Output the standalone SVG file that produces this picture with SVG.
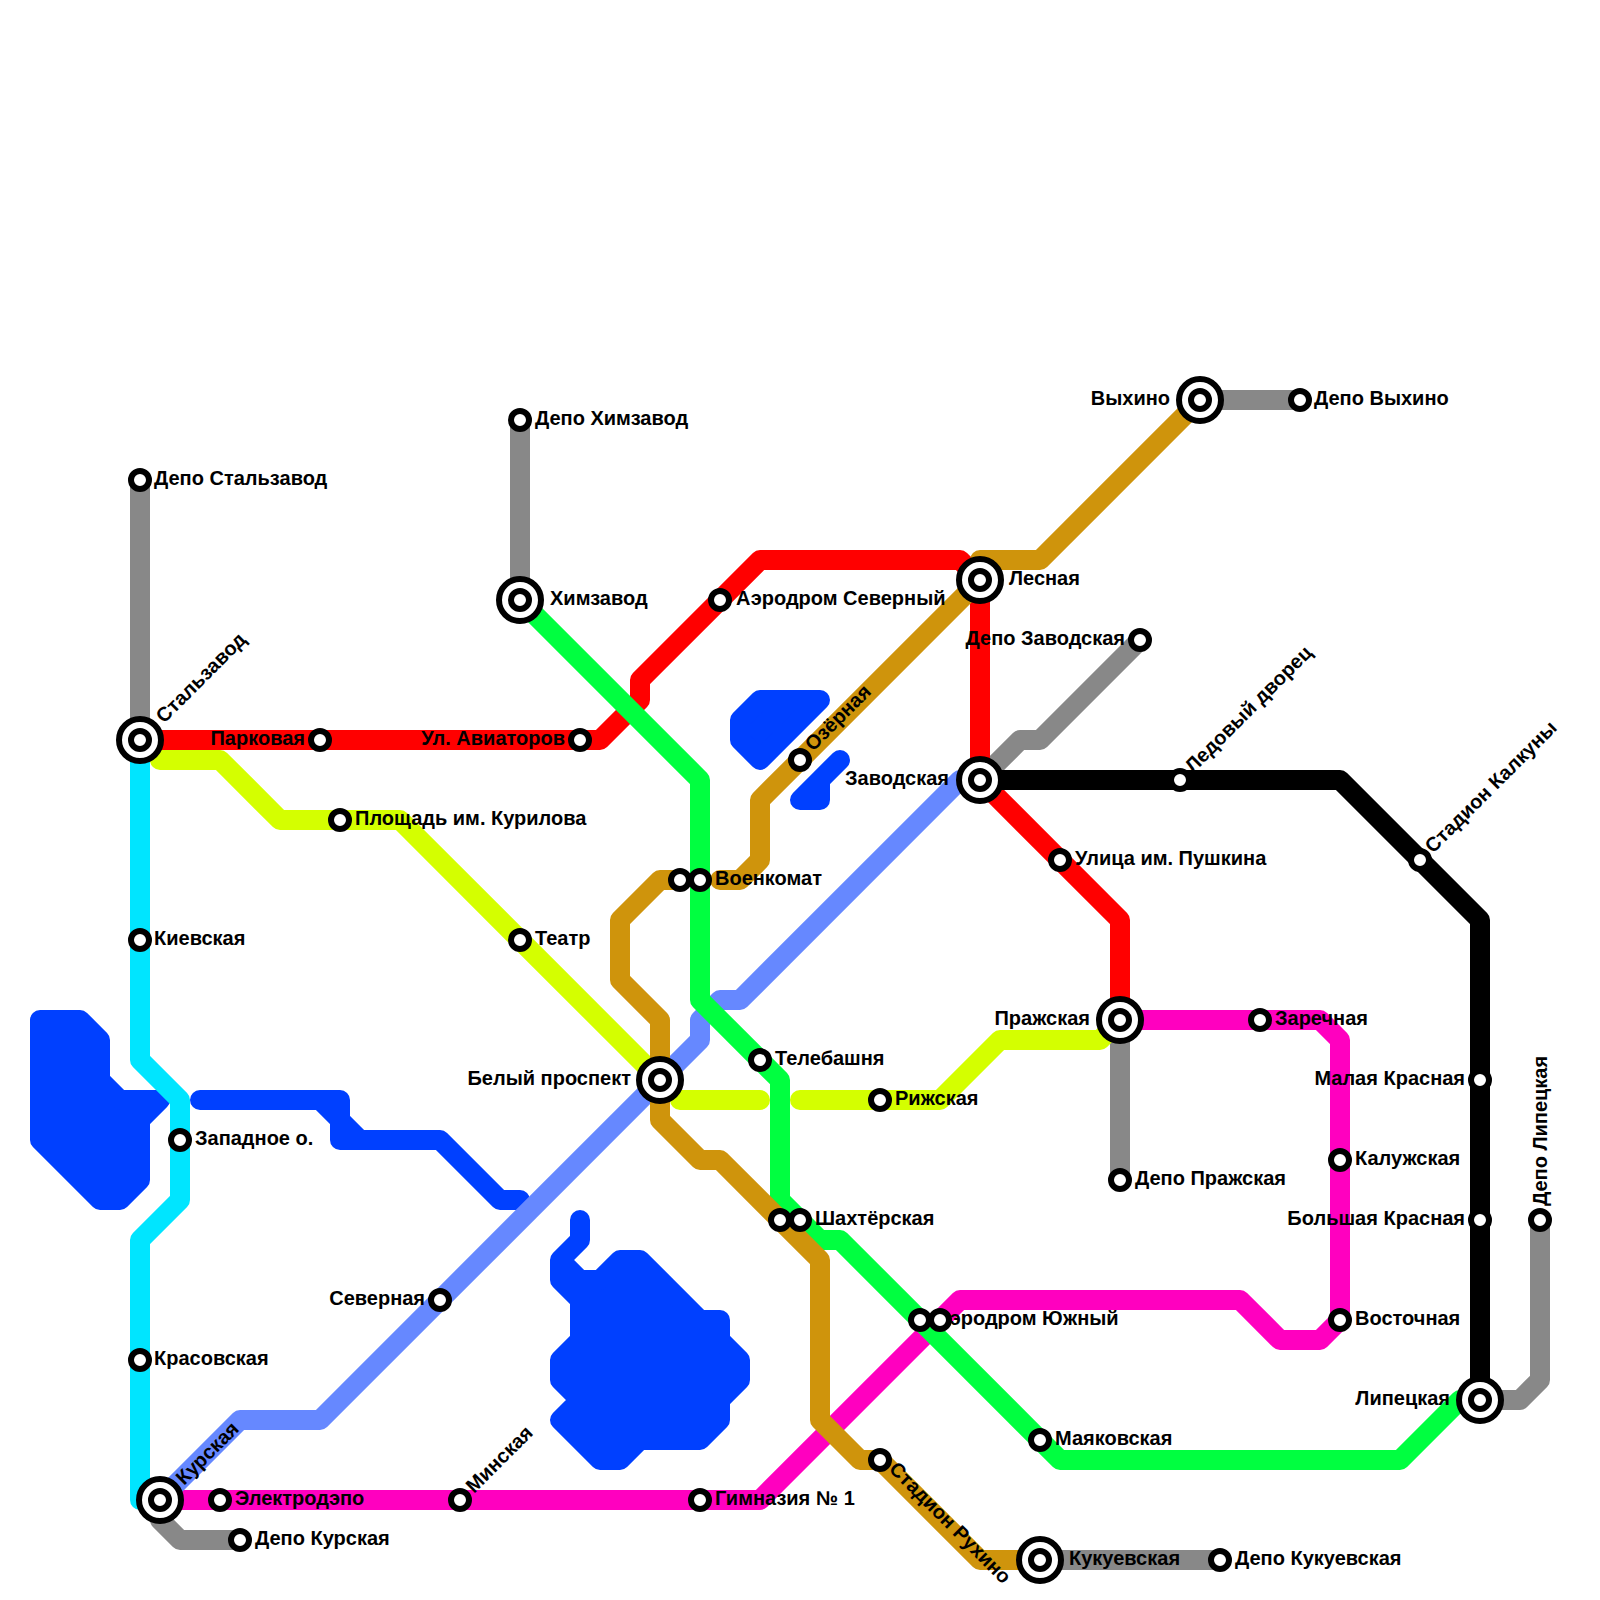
<svg xmlns="http://www.w3.org/2000/svg" width="1600" height="1600" viewBox="0 0 1600 1600">
<style>
.l{fill:none;stroke-width:20;stroke-linejoin:round;stroke-linecap:round}
.w{fill:#0040ff;stroke:#0040ff;stroke-width:20;stroke-linejoin:round;stroke-linecap:round}
.s{fill:#fff;stroke:#000;stroke-width:6}
.o{fill:#fff;stroke:#000;stroke-width:6}
.i{fill:#fff;stroke:#000;stroke-width:6}
text{font-family:"Liberation Sans",Arial,sans-serif;font-weight:bold;font-size:20px;fill:#000}
.e{text-anchor:end}
</style>
<rect width="1600" height="1600" fill="#fff"/>
<g id="water">
<polygon class="w" points="40,1020 80,1020 100,1040 100,1080 120,1100 160,1100 140,1120 140,1180 120,1200 100,1200 40,1140"/>
<polygon class="w" points="200,1100 340,1100 340,1120 360,1140 440,1140 500,1200 520,1200 500,1200 440,1140 340,1140 340,1120 320,1100"/>
<polygon class="w" points="740,720 760,700 820,700 760,760 740,740"/>
<polygon class="w" points="840,760 800,800 820,800 820,780"/>
<polygon class="w" points="580,1220 580,1240 560,1260 560,1280 580,1300 580,1340 560,1360 560,1380 580,1400 560,1420 600,1460 620,1460 640,1440 700,1440 720,1420 720,1400 740,1380 740,1360 720,1340 720,1320 700,1320 640,1260 620,1260 600,1280 580,1280 560,1260 580,1240"/>
</g>
<g id="connectors">
<path class="l" stroke="#888" d="M140 480V740M520 420V600M1200 400H1300M1040 1560H1220M980 780L1020 740H1040L1140 640M1120 1020V1180M1480 1400H1520L1540 1380V1220M160 1500V1520L180 1540H240"/>
<path class="l" stroke="#d4ff00" d="M160 760H220L280 820H400L660 1080M680 1100H760M800 1100H940L1000 1040H1100L1120 1020"/>
<path class="l" stroke="#ff00bf" d="M160 1500H760L960 1300H1240L1280 1340H1320L1340 1320V1040L1320 1020H1120"/>
<path class="l" stroke="#6688ff" d="M160 1500L240 1420H320L700 1040V1020L720 1000H740L960 780H980"/>
<path class="l" stroke="#00e5ff" d="M140 740V1060L180 1100V1200L140 1240V1500H160"/>
<path class="l" stroke="#f00" d="M140 740H600L640 700V680L760 560H960L980 580V780L1120 920V1020"/>
<path class="l" stroke="#000" d="M980 780H1340L1480 920V1400"/>
<path class="l" stroke="#00ff40" d="M520 600L700 780V1000L780 1080V1200L820 1240H840L1060 1460H1400L1460 1400H1480"/>
<path class="l" stroke="#cf940c" d="M980 580L760 800V860L740 880H720M680 880H660L620 920V980L660 1020V1120L700 1160H720L820 1260V1420L860 1460H880L980 1560H1040M980 580V560H1040L1200 400"/>
</g>
<g id="nodes">
<g id="stalzavod-depo"><text x="154" y="485">Депо Стальзавод</text><circle class="s" cx="140" cy="480" r="9"/></g>
<g id="himzavod-depo"><text x="535" y="425">Депо Химзавод</text><circle class="s" cx="520" cy="420" r="9"/></g>
<g id="stalzavod"><text transform="translate(164,724) rotate(-45)">Стальзавод</text><circle class="o" cx="140" cy="740" r="21"/><circle class="i" cx="140" cy="740" r="9"/></g>
<g id="himzavod"><text x="550" y="605">Химзавод</text><circle class="o" cx="520" cy="600" r="21"/><circle class="i" cx="520" cy="600" r="9"/></g>
<g id="parkovaya"><text class="e" x="305" y="745">Парковая</text><circle class="s" cx="320" cy="740" r="9"/></g>
<g id="aviatorov"><text class="e" x="565" y="745">Ул. Авиаторов</text><circle class="s" cx="580" cy="740" r="9"/></g>
<g id="kurilova"><text x="355" y="825">Площадь им. Курилова</text><circle class="s" cx="340" cy="820" r="9"/></g>
<g id="teatr"><text x="535" y="945">Театр</text><circle class="s" cx="520" cy="940" r="9"/></g>
<g id="kievskaya"><text x="154" y="945">Киевская</text><circle class="s" cx="140" cy="940" r="9"/></g>
<g id="zapadnoe"><text x="195" y="1145">Западное о.</text><circle class="s" cx="180" cy="1140" r="9"/></g>
<g id="krasovskaya"><text x="154" y="1365">Красовская</text><circle class="s" cx="140" cy="1360" r="9"/></g>
<g id="severnaya"><text class="e" x="425" y="1305">Северная</text><circle class="s" cx="440" cy="1300" r="9"/></g>
<g id="kurskaya"><text transform="translate(184,1486) rotate(-45)">Курская</text><circle class="o" cx="160" cy="1500" r="21"/><circle class="i" cx="160" cy="1500" r="9"/></g>
<g id="elektrodepo"><text x="235" y="1505">Электродэпо</text><circle class="s" cx="220" cy="1500" r="9"/></g>
<g id="kurskaya-depo"><text x="255" y="1545">Депо Курская</text><circle class="s" cx="240" cy="1540" r="9"/></g>
<g id="minskaya"><text transform="translate(474,1494) rotate(-45)">Минская</text><circle class="s" cx="460" cy="1500" r="9"/></g>
<g id="gimnaziya"><text x="715" y="1505">Гимназия № 1</text><circle class="s" cx="700" cy="1500" r="9"/></g>
<g id="belyi"><text class="e" x="631" y="1085">Белый проспект</text><circle class="o" cx="660" cy="1080" r="21"/><circle class="i" cx="660" cy="1080" r="9"/></g>
<g id="telebashnya"><text x="775" y="1065">Телебашня</text><circle class="s" cx="760" cy="1060" r="9"/></g>
<g id="rizhskaya"><text x="895" y="1105">Рижская</text><circle class="s" cx="880" cy="1100" r="9"/></g>
<g id="shahterskaya-1"><text x="815" y="1225">Шахтёрская</text><circle class="s" cx="780" cy="1220" r="9"/></g>
<g id="shahterskaya-2"><circle class="s" cx="800" cy="1220" r="9"/></g>
<g id="voenkomat-1"><text x="715" y="885">Военкомат</text><circle class="s" cx="680" cy="880" r="9"/></g>
<g id="voenkomat-2"><circle class="s" cx="700" cy="880" r="9"/></g>
<g id="aero-sever"><text x="736" y="605">Аэродром Северный</text><circle class="s" cx="720" cy="600" r="9"/></g>
<g id="ozernaya"><text transform="translate(813,752) rotate(-45)">Озёрная</text><circle class="s" cx="800" cy="760" r="9"/></g>
<g id="aero-yug-1"><text x="935" y="1325">Аэродром Южный</text><circle class="s" cx="920" cy="1320" r="9"/></g>
<g id="aero-yug-2"><circle class="s" cx="940" cy="1320" r="9"/></g>
<g id="ruhino"><text transform="translate(888,1470) rotate(45)">Стадион Рухино</text><circle class="s" cx="880" cy="1460" r="9"/></g>
<g id="mayakovskaya"><text x="1055" y="1445">Маяковская</text><circle class="s" cx="1040" cy="1440" r="9"/></g>
<g id="kukuevskaya"><text x="1069" y="1565">Кукуевская</text><circle class="o" cx="1040" cy="1560" r="21"/><circle class="i" cx="1040" cy="1560" r="9"/></g>
<g id="kukuevskaya-depo"><text x="1235" y="1565">Депо Кукуевская</text><circle class="s" cx="1220" cy="1560" r="9"/></g>
<g id="lesnaya"><text x="1009" y="585">Лесная</text><circle class="o" cx="980" cy="580" r="21"/><circle class="i" cx="980" cy="580" r="9"/></g>
<g id="vyhino"><text class="e" x="1170" y="405">Выхино</text><circle class="o" cx="1200" cy="400" r="21"/><circle class="i" cx="1200" cy="400" r="9"/></g>
<g id="vyhino-depo"><text x="1314" y="405">Депо Выхино</text><circle class="s" cx="1300" cy="400" r="9"/></g>
<g id="zavodskaya-depo"><text class="e" x="1125" y="645">Депо Заводская</text><circle class="s" cx="1140" cy="640" r="9"/></g>
<g id="zavodskaya"><text class="e" x="949" y="785">Заводская</text><circle class="o" cx="980" cy="780" r="21"/><circle class="i" cx="980" cy="780" r="9"/></g>
<g id="ledovyi"><text transform="translate(1193,774) rotate(-45)">Ледовый дворец</text><circle class="s" cx="1180" cy="780" r="9"/></g>
<g id="kalkuny"><text transform="translate(1433,854) rotate(-45)">Стадион Калкуны</text><circle class="s" cx="1420" cy="860" r="9"/></g>
<g id="pushkina"><text x="1075" y="865">Улица им. Пушкина</text><circle class="s" cx="1060" cy="860" r="9"/></g>
<g id="prazhskaya"><text class="e" x="1090" y="1025">Пражская</text><circle class="o" cx="1120" cy="1020" r="21"/><circle class="i" cx="1120" cy="1020" r="9"/></g>
<g id="prazhskaya-depo"><text x="1135" y="1185">Депо Пражская</text><circle class="s" cx="1120" cy="1180" r="9"/></g>
<g id="zarechnaya"><text x="1275" y="1025">Заречная</text><circle class="s" cx="1260" cy="1020" r="9"/></g>
<g id="kaluzhskaya"><text x="1355" y="1165">Калужская</text><circle class="s" cx="1340" cy="1160" r="9"/></g>
<g id="vostochnaya"><text x="1355" y="1325">Восточная</text><circle class="s" cx="1340" cy="1320" r="9"/></g>
<g id="malaya"><text class="e" x="1465" y="1085">Малая Красная</text><circle class="s" cx="1480" cy="1080" r="9"/></g>
<g id="bolshaya"><text class="e" x="1465" y="1225">Большая Красная</text><circle class="s" cx="1480" cy="1220" r="9"/></g>
<g id="lipetskaya"><text class="e" x="1450" y="1405">Липецкая</text><circle class="o" cx="1480" cy="1400" r="21"/><circle class="i" cx="1480" cy="1400" r="9"/></g>
<g id="lipetskaya-depo"><text transform="translate(1547,1206) rotate(-90)">Депо Липецкая</text><circle class="s" cx="1540" cy="1220" r="9"/></g>
</g>
</svg>
